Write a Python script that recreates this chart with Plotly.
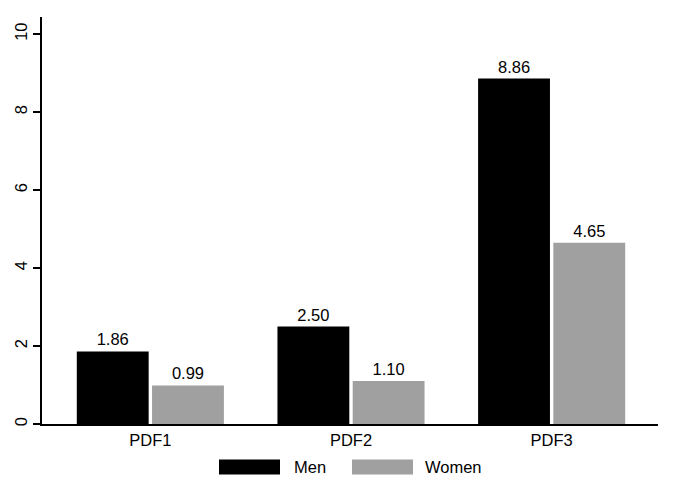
import plotly.graph_objects as go

categories = ["PDF1", "PDF2", "PDF3"]
men = [1.86, 2.50, 8.86]
women = [0.99, 1.10, 4.65]
series_names = ["Men", "Women"]
colors = ["#000000", "#a0a0a0"]
y_ticks = [0, 2, 4, 6, 8, 10]

FONT = "Liberation Sans, Arial, sans-serif"
FS = 16.5

fig = go.Figure()
for name, vals, col in zip(series_names, [men, women], colors):
    fig.add_trace(go.Bar(
        x=categories, y=vals, name=name,
        marker=dict(color=col, line=dict(width=0)),
        text=[f"{v:.2f}" for v in vals],
        textposition="outside",
        textfont=dict(size=FS, color="#000000", family=FONT),
        cliponaxis=False,
        showlegend=False,
    ))

# page has an 8px body margin; figure coordinates = window coordinates - 8
OFF = 8
W, H = 676 - 2 * OFF, 492 - 2 * OFF
ml, mt = 42 - OFF, 17 - OFF
mr = W - (658 - OFF)
mb = H - (424 - OFF)
pw, ph = W - ml - mr, H - mt - mb
def px(x):
    return (x - OFF - ml) / pw
def py(y):
    return (H - mb - (y - OFF)) / ph

# manual legend with wide keys (Stata style), window pixel positions
leg_keys = [(219, 280, 292), (352, 413, 423)]
for (x0, x1, tx), name, col in zip(leg_keys, series_names, colors):
    fig.add_shape(type="rect", xref="paper", yref="paper",
                  x0=px(x0), x1=px(x1), y0=py(474.5), y1=py(459.5),
                  fillcolor=col, line=dict(width=0))
    fig.add_annotation(xref="paper", yref="paper", x=px(tx), y=py(467),
                       text=name, showarrow=False, xanchor="left", yanchor="middle",
                       font=dict(size=FS, color="#000000", family=FONT))

fig.update_layout(
    width=W, height=H,
    margin=dict(l=ml, r=mr, t=mt, b=mb, autoexpand=False),
    paper_bgcolor="white", plot_bgcolor="white",
    barmode="group", bargap=0.25, bargroupgap=0.045,
    font=dict(family=FONT, size=FS, color="#000000"),
    showlegend=False,
)
fig.update_xaxes(
    range=[-0.54, 2.53], showline=True, linecolor="#000000", linewidth=1.5,
    ticks="", showgrid=False, zeroline=False, automargin=False,
    tickfont=dict(size=FS, family=FONT, color="#000000"),
)
fig.update_yaxes(
    range=[0, 10.44], tickvals=y_ticks, showline=True, linecolor="#000000",
    linewidth=1.5, ticks="outside", ticklen=7, tickwidth=1.5, tickcolor="#000000",
    showgrid=False, zeroline=False, tickangle=-90, automargin=False,
    tickfont=dict(size=FS, family=FONT, color="#000000"),
)

fig.write_html("out.html")
